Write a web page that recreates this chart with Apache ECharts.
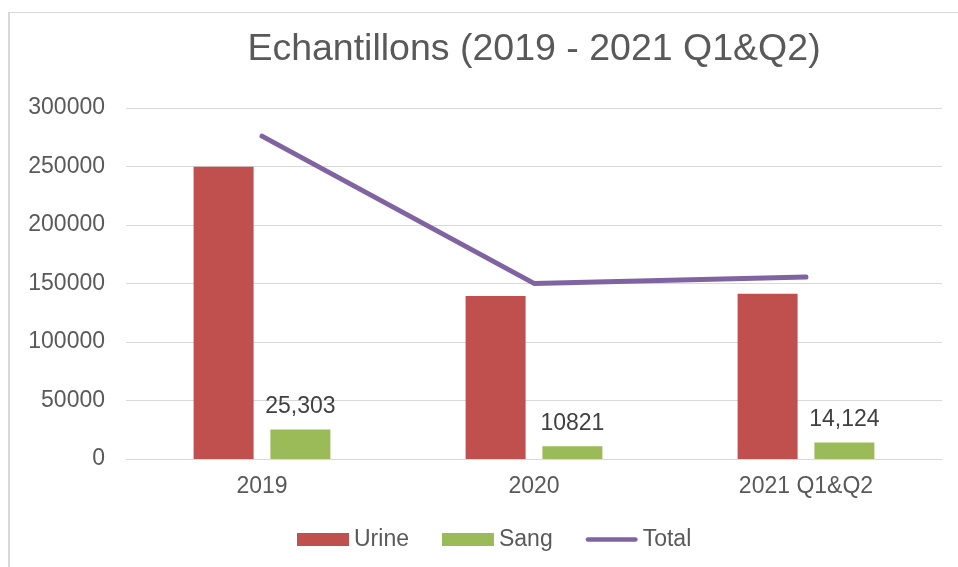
<!DOCTYPE html>
<html>
<head>
<meta charset="utf-8">
<script src="https://cdn.jsdelivr.net/npm/echarts@6/dist/echarts.min.js"></script>
<style>html,body{margin:0;padding:0;background:#fff;}#c{width:958px;height:567px;}</style>
</head>
<body>
<div id="c"></div>
<script>
const categories = ['2019', '2020', '2021 Q1&Q2'];
const urine = [249700, 139300, 141200];
const sang = [25303, 10821, 14124];
const total = [276000, 150100, 155500];
const sangLabels = ['25,303', '10821', '14,124'];
const yTicks = [0, 50000, 100000, 150000, 200000, 250000, 300000];

const chart = echarts.init(document.getElementById('c'), null, {renderer: 'canvas'});
const font = '"Liberation Sans", Arial, sans-serif';
chart.setOption({
  animation: false,
  backgroundColor: '#fff',
  title: {
    text: 'Echantillons (2019 - 2021 Q1&Q2)',
    left: 529, textAlign: 'center', top: 26,
    textStyle: {fontFamily: font, fontSize: 37.5, fontWeight: 'normal', color: '#595959'}
  },
  graphic: [
    {type: 'line', shape: {x1: 8, y1: 12.5, x2: 958, y2: 12.5}, style: {stroke: '#d9d9d9', lineWidth: 1}},
    {type: 'line', shape: {x1: 9, y1: 12, x2: 9, y2: 567}, style: {stroke: '#d9d9d9', lineWidth: 2}}
  ],
  legend: {
    bottom: 11, left: 292,
    itemWidth: 52, itemHeight: 13, itemGap: 33,
    textStyle: {fontFamily: font, fontSize: 23, color: '#595959'},
    data: [
      {name: 'Urine', icon: 'rect'},
      {name: 'Sang', icon: 'rect'},
      {name: 'Total', icon: 'path://M2.5,0 L54.5,0 A2.5,2.5 0 0 1 54.5,5 L2.5,5 A2.5,2.5 0 0 1 2.5,0 Z'}
    ]
  },
  grid: {left: 126, right: 16, top: 108, bottom: 108},
  xAxis: {
    type: 'category', data: categories,
    axisLine: {lineStyle: {color: '#d9d9d9', width: 1}},
    axisTick: {show: false},
    axisLabel: {fontFamily: font, fontSize: 23, color: '#595959', margin: 16}
  },
  yAxis: {
    type: 'value', min: yTicks[0], max: yTicks[yTicks.length - 1], interval: 50000,
    axisLine: {show: false}, axisTick: {show: false},
    splitLine: {lineStyle: {color: '#d9d9d9', width: 1}},
    axisLabel: {fontFamily: font, fontSize: 23, color: '#595959', margin: 21,
      formatter: v => String(v)}
  },
  series: [
    {name: 'Urine', type: 'bar', data: urine, barWidth: 60, barGap: '28%',
     itemStyle: {color: '#c0504d'}},
    {name: 'Sang', type: 'bar', data: sang, barWidth: 60,
     itemStyle: {color: '#9bbb59'},
     label: {show: true, position: 'top', distance: 11, fontFamily: font, fontSize: 23, color: '#404040',
       formatter: p => sangLabels[p.dataIndex]}},
    {name: 'Total', type: 'line', data: total, symbol: 'none',
     lineStyle: {color: '#8064a2', width: 5, cap: 'round', join: 'round'},
     itemStyle: {color: '#8064a2'}}
  ]
});
</script>
</body>
</html>
